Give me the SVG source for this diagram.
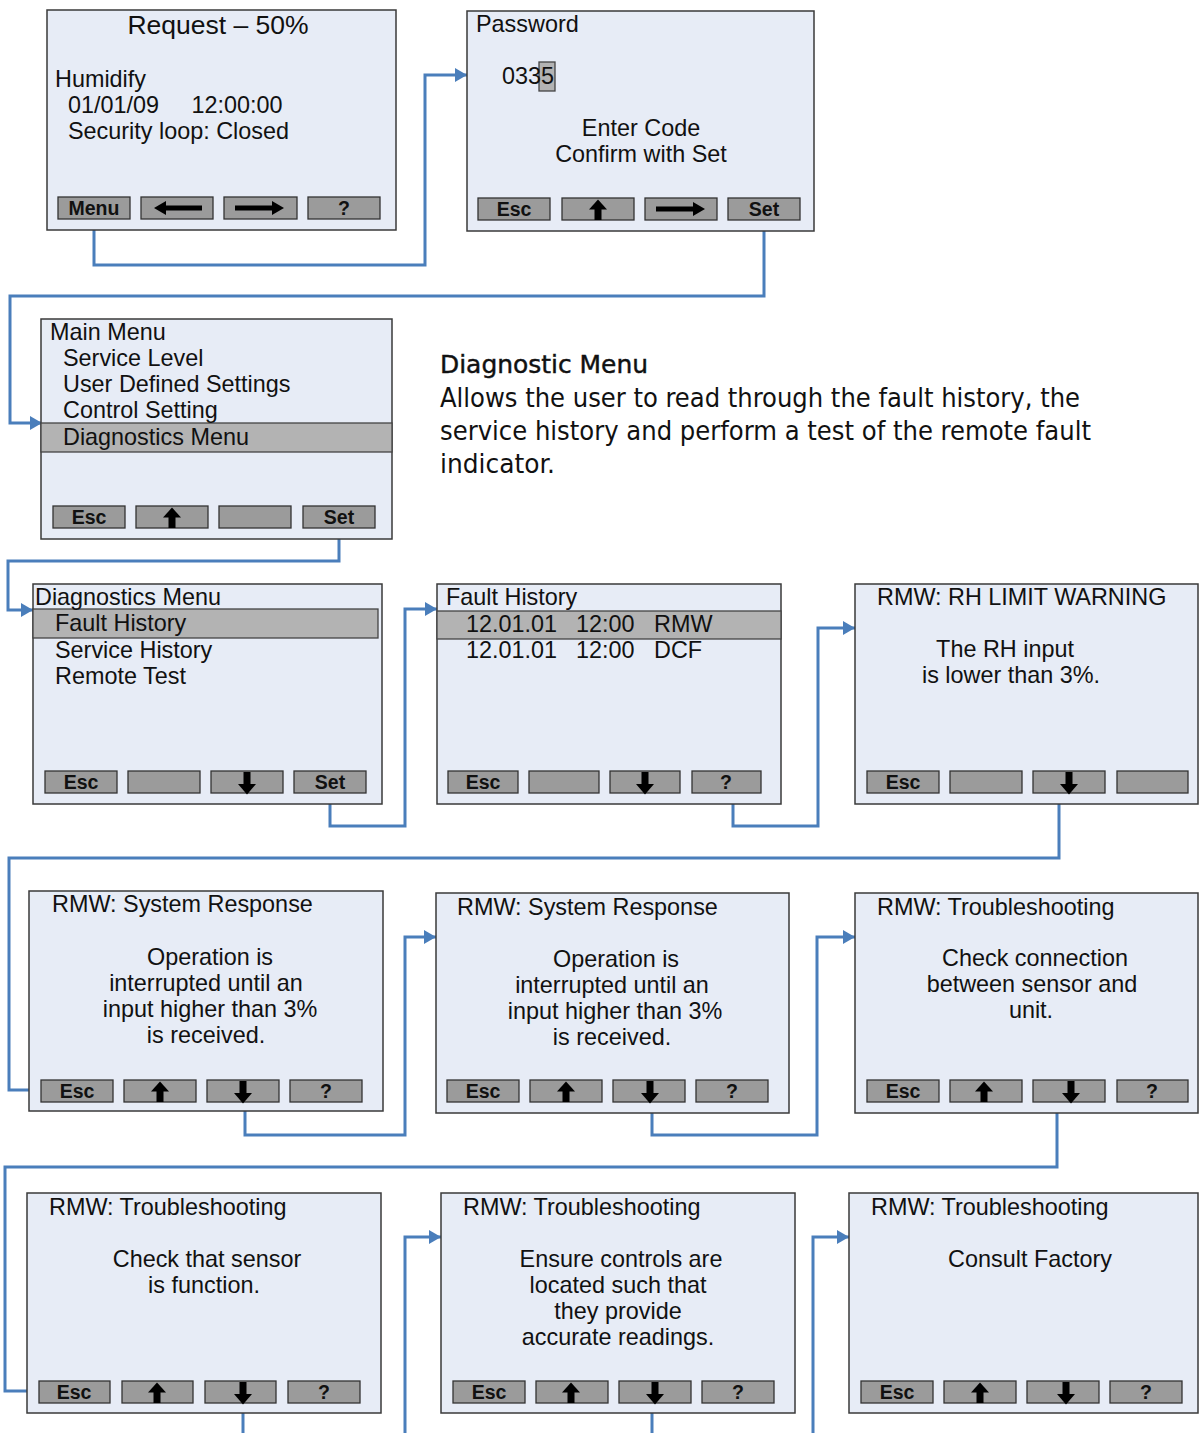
<svg xmlns="http://www.w3.org/2000/svg" xmlns:xlink="http://www.w3.org/1999/xlink" width="1199" height="1433" viewBox="0 0 1199 1433">
<style>
.panel{fill:#e7ecf6;stroke:#3a3a3a;stroke-width:1.5}
.btn{fill:#9b9b9b;stroke:#333;stroke-width:1.3}
.hl{fill:#b3b3b3;stroke:#444;stroke-width:1.3}
.t{font-family:"Liberation Sans",Arial,sans-serif;font-size:23.4px;fill:#111}
.c{text-anchor:middle}
.b{font-family:"Liberation Sans",Arial,sans-serif;font-size:19.5px;font-weight:bold;fill:#111;text-anchor:middle}
.con{fill:none;stroke:#4a7ebb;stroke-width:3}
.para{font-family:"DejaVu Sans Condensed","Liberation Sans Narrow","Liberation Sans",sans-serif;fill:#111}
</style>
<defs>
<marker id="ah" markerUnits="userSpaceOnUse" markerWidth="14" markerHeight="15" refX="12" refY="7.5" orient="auto">
<path d="M0,0.5 L12,7.5 L0,14.5 Z" fill="#4a7ebb"/>
</marker>
<g id="up"><polygon points="0,1.5 9,11.5 -9,11.5" fill="#000"/><rect x="-3.5" y="10" width="7" height="12" fill="#000"/></g>
<g id="down"><rect x="-3.5" y="1" width="7" height="13" fill="#000"/><polygon points="0,23.5 9,13 -9,13" fill="#000"/></g>
<g id="left"><rect x="-12" y="8.5" width="37" height="5" fill="#000"/><polygon points="-23,11 -11,4 -11,18" fill="#000"/></g>
<g id="right"><rect x="-25" y="8.5" width="37" height="5" fill="#000"/><polygon points="24,11 12,4 12,18" fill="#000"/></g>
</defs>
<rect width="1199" height="1433" fill="#fff"/>

<g id="connectors">
<path class="con" d="M94,219 V265 H425 V75 H467" marker-end="url(#ah)"/>
<path class="con" d="M764,220 V296 H10 V423 H42" marker-end="url(#ah)"/>
<path class="con" d="M339,528 V561 H8 V610 H33" marker-end="url(#ah)"/>
<path class="con" d="M330,793 V826 H405 V609 H437" marker-end="url(#ah)"/>
<path class="con" d="M733,793 V826 H818 V628 H855" marker-end="url(#ah)"/>
<path class="con" d="M1059,793 V858 H9 V1090 H41" marker-end="url(#ah)"/>
<path class="con" d="M245,1102 V1135 H405 V937 H436" marker-end="url(#ah)"/>
<path class="con" d="M652,1102 V1135 H817 V937 H855" marker-end="url(#ah)"/>
<path class="con" d="M1057,1102 V1167 H5 V1391 H39" marker-end="url(#ah)"/>
<path class="con" d="M243,1403 V1433"/>
<path class="con" d="M405,1433 V1237 H441" marker-end="url(#ah)"/>
<path class="con" d="M652,1403 V1433"/>
<path class="con" d="M813,1433 V1237 H849" marker-end="url(#ah)"/>
</g>

<g id="n1">
<rect class="panel" x="47" y="10" width="349" height="220"/>
<text class="t c" x="218" y="34" style="font-size:26.5px">Request – 50%</text>
<text class="t" x="55" y="87">Humidify</text>
<text class="t" x="68" y="113" xml:space="preserve">01/01/09     12:00:00</text>
<text class="t" x="68" y="139">Security loop: Closed</text>
<rect class="btn" x="58" y="197" width="72" height="22"/><text class="b" x="94" y="214.5">Menu</text>
<rect class="btn" x="141" y="197" width="72" height="22"/><use xlink:href="#left" x="177" y="197"/>
<rect class="btn" x="224" y="197" width="73" height="22"/><use xlink:href="#right" x="260" y="197"/>
<rect class="btn" x="308" y="197" width="72" height="22"/><text class="b" x="344" y="214.5">?</text>
</g>

<g id="n2">
<rect class="panel" x="467" y="11" width="347" height="220"/>
<text class="t" x="476" y="32">Password</text>
<rect class="hl" x="539" y="62" width="16" height="29"/>
<text class="t" x="502" y="84">0335</text>
<text class="t c" x="641" y="136">Enter Code</text>
<text class="t c" x="641" y="162">Confirm with Set</text>
<rect class="btn" x="478" y="198" width="72" height="22"/><text class="b" x="514" y="215.5">Esc</text>
<rect class="btn" x="562" y="198" width="72" height="22"/><use xlink:href="#up" x="598" y="198"/>
<rect class="btn" x="645" y="198" width="72" height="22"/><use xlink:href="#right" x="681" y="198"/>
<rect class="btn" x="728" y="198" width="72" height="22"/><text class="b" x="764" y="215.5">Set</text>
</g>

<g id="n3">
<rect class="panel" x="41" y="319" width="351" height="220"/>
<rect class="hl" x="41" y="423" width="351" height="29"/>
<text class="t" x="50" y="340">Main Menu</text>
<text class="t" x="63" y="366">Service Level</text>
<text class="t" x="63" y="392">User Defined Settings</text>
<text class="t" x="63" y="418">Control Setting</text>
<text class="t" x="63" y="445">Diagnostics Menu</text>
<rect class="btn" x="53" y="506" width="72" height="22"/><text class="b" x="89" y="523.5">Esc</text>
<rect class="btn" x="136" y="506" width="72" height="22"/><use xlink:href="#up" x="172" y="506"/>
<rect class="btn" x="219" y="506" width="72" height="22"/>
<rect class="btn" x="303" y="506" width="72" height="22"/><text class="b" x="339" y="523.5">Set</text>
</g>

<g id="desc">
<text class="para" x="440" y="373" style="font-size:25px;stroke:#111;stroke-width:0.4" textLength="208" lengthAdjust="spacingAndGlyphs">Diagnostic Menu</text>
<text class="para" x="440" y="407" style="font-size:27px" textLength="640" lengthAdjust="spacingAndGlyphs">Allows the user to read through the fault history, the</text>
<text class="para" x="440" y="440" style="font-size:27px" textLength="651" lengthAdjust="spacingAndGlyphs">service history and perform a test of the remote fault</text>
<text class="para" x="440" y="473" style="font-size:27px" textLength="115" lengthAdjust="spacingAndGlyphs">indicator.</text>
</g>

<g id="n4">
<rect class="panel" x="33" y="584" width="349" height="220"/>
<rect class="hl" x="33" y="609" width="345" height="29"/>
<text class="t" x="35" y="605">Diagnostics Menu</text>
<text class="t" x="55" y="631">Fault History</text>
<text class="t" x="55" y="658">Service History</text>
<text class="t" x="55" y="684">Remote Test</text>
<rect class="btn" x="45" y="771" width="72" height="22"/><text class="b" x="81" y="788.5">Esc</text>
<rect class="btn" x="128" y="771" width="72" height="22"/>
<rect class="btn" x="211" y="771" width="72" height="22"/><use xlink:href="#down" x="247" y="771"/>
<rect class="btn" x="294" y="771" width="72" height="22"/><text class="b" x="330" y="788.5">Set</text>
</g>

<g id="n5">
<rect class="panel" x="437" y="584" width="344" height="220"/>
<rect class="hl" x="437" y="611" width="344" height="28"/>
<text class="t" x="446" y="605">Fault History</text>
<text class="t" x="466" y="632">12.01.01</text><text class="t" x="576" y="632">12:00</text><text class="t" x="654" y="632">RMW</text>
<text class="t" x="466" y="658">12.01.01</text><text class="t" x="576" y="658">12:00</text><text class="t" x="654" y="658">DCF</text>
<rect class="btn" x="448" y="771" width="70" height="22"/><text class="b" x="483" y="788.5">Esc</text>
<rect class="btn" x="529" y="771" width="70" height="22"/>
<rect class="btn" x="610" y="771" width="70" height="22"/><use xlink:href="#down" x="645" y="771"/>
<rect class="btn" x="692" y="771" width="69" height="22"/><text class="b" x="726" y="788.5">?</text>
</g>

<g id="n6">
<rect class="panel" x="855" y="584" width="343" height="220"/>
<text class="t" x="877" y="605">RMW: RH LIMIT WARNING</text>
<text class="t c" x="1005" y="657">The RH input</text>
<text class="t c" x="1011" y="683">is lower than 3%.</text>
<rect class="btn" x="867" y="771" width="72" height="22"/><text class="b" x="903" y="788.5">Esc</text>
<rect class="btn" x="950" y="771" width="72" height="22"/>
<rect class="btn" x="1033" y="771" width="72" height="22"/><use xlink:href="#down" x="1069" y="771"/>
<rect class="btn" x="1117" y="771" width="71" height="22"/>
</g>

<g id="n7">
<rect class="panel" x="29" y="891" width="354" height="220"/>
<text class="t" x="52" y="912">RMW: System Response</text>
<text class="t c" x="210" y="965">Operation is</text>
<text class="t c" x="206" y="991">interrupted until an</text>
<text class="t c" x="210" y="1017">input higher than 3%</text>
<text class="t c" x="206" y="1043">is received.</text>
<rect class="btn" x="41" y="1080" width="72" height="22"/><text class="b" x="77" y="1097.5">Esc</text>
<rect class="btn" x="124" y="1080" width="72" height="22"/><use xlink:href="#up" x="160" y="1080"/>
<rect class="btn" x="207" y="1080" width="72" height="22"/><use xlink:href="#down" x="243" y="1080"/>
<rect class="btn" x="290" y="1080" width="72" height="22"/><text class="b" x="326" y="1097.5">?</text>
</g>

<g id="n8">
<rect class="panel" x="436" y="893" width="353" height="220"/>
<text class="t" x="457" y="915">RMW: System Response</text>
<text class="t c" x="616" y="967">Operation is</text>
<text class="t c" x="612" y="993">interrupted until an</text>
<text class="t c" x="615" y="1019">input higher than 3%</text>
<text class="t c" x="612" y="1045">is received.</text>
<rect class="btn" x="447" y="1080" width="72" height="22"/><text class="b" x="483" y="1097.5">Esc</text>
<rect class="btn" x="530" y="1080" width="72" height="22"/><use xlink:href="#up" x="566" y="1080"/>
<rect class="btn" x="613" y="1080" width="72" height="22"/><use xlink:href="#down" x="650" y="1080"/>
<rect class="btn" x="696" y="1080" width="72" height="22"/><text class="b" x="732" y="1097.5">?</text>
</g>

<g id="n9">
<rect class="panel" x="855" y="893" width="343" height="220"/>
<text class="t" x="877" y="915">RMW: Troubleshooting</text>
<text class="t c" x="1035" y="966">Check connection</text>
<text class="t c" x="1032" y="992">between sensor and</text>
<text class="t c" x="1031" y="1018">unit.</text>
<rect class="btn" x="867" y="1080" width="72" height="22"/><text class="b" x="903" y="1097.5">Esc</text>
<rect class="btn" x="950" y="1080" width="72" height="22"/><use xlink:href="#up" x="984" y="1080"/>
<rect class="btn" x="1033" y="1080" width="72" height="22"/><use xlink:href="#down" x="1071" y="1080"/>
<rect class="btn" x="1117" y="1080" width="71" height="22"/><text class="b" x="1152" y="1097.5">?</text>
</g>

<g id="n10">
<rect class="panel" x="27" y="1193" width="354" height="220"/>
<text class="t" x="49" y="1215">RMW: Troubleshooting</text>
<text class="t c" x="207" y="1267">Check that sensor</text>
<text class="t c" x="204" y="1293">is function.</text>
<rect class="btn" x="39" y="1381" width="71" height="22"/><text class="b" x="74" y="1398.5">Esc</text>
<rect class="btn" x="122" y="1381" width="71" height="22"/><use xlink:href="#up" x="157" y="1381"/>
<rect class="btn" x="205" y="1381" width="71" height="22"/><use xlink:href="#down" x="243" y="1381"/>
<rect class="btn" x="288" y="1381" width="72" height="22"/><text class="b" x="324" y="1398.5">?</text>
</g>

<g id="n11">
<rect class="panel" x="441" y="1193" width="354" height="220"/>
<text class="t" x="463" y="1215">RMW: Troubleshooting</text>
<text class="t c" x="621" y="1267">Ensure controls are</text>
<text class="t c" x="618" y="1293">located such that</text>
<text class="t c" x="618" y="1319">they provide</text>
<text class="t c" x="618" y="1345">accurate readings.</text>
<rect class="btn" x="453" y="1381" width="72" height="22"/><text class="b" x="489" y="1398.5">Esc</text>
<rect class="btn" x="536" y="1381" width="72" height="22"/><use xlink:href="#up" x="571" y="1381"/>
<rect class="btn" x="619" y="1381" width="72" height="22"/><use xlink:href="#down" x="655" y="1381"/>
<rect class="btn" x="702" y="1381" width="72" height="22"/><text class="b" x="738" y="1398.5">?</text>
</g>

<g id="n12">
<rect class="panel" x="849" y="1193" width="349" height="220"/>
<text class="t" x="871" y="1215">RMW: Troubleshooting</text>
<text class="t c" x="1030" y="1267">Consult Factory</text>
<rect class="btn" x="861" y="1381" width="72" height="22"/><text class="b" x="897" y="1398.5">Esc</text>
<rect class="btn" x="944" y="1381" width="72" height="22"/><use xlink:href="#up" x="980" y="1381"/>
<rect class="btn" x="1027" y="1381" width="72" height="22"/><use xlink:href="#down" x="1066" y="1381"/>
<rect class="btn" x="1110" y="1381" width="72" height="22"/><text class="b" x="1146" y="1398.5">?</text>
</g>
</svg>
